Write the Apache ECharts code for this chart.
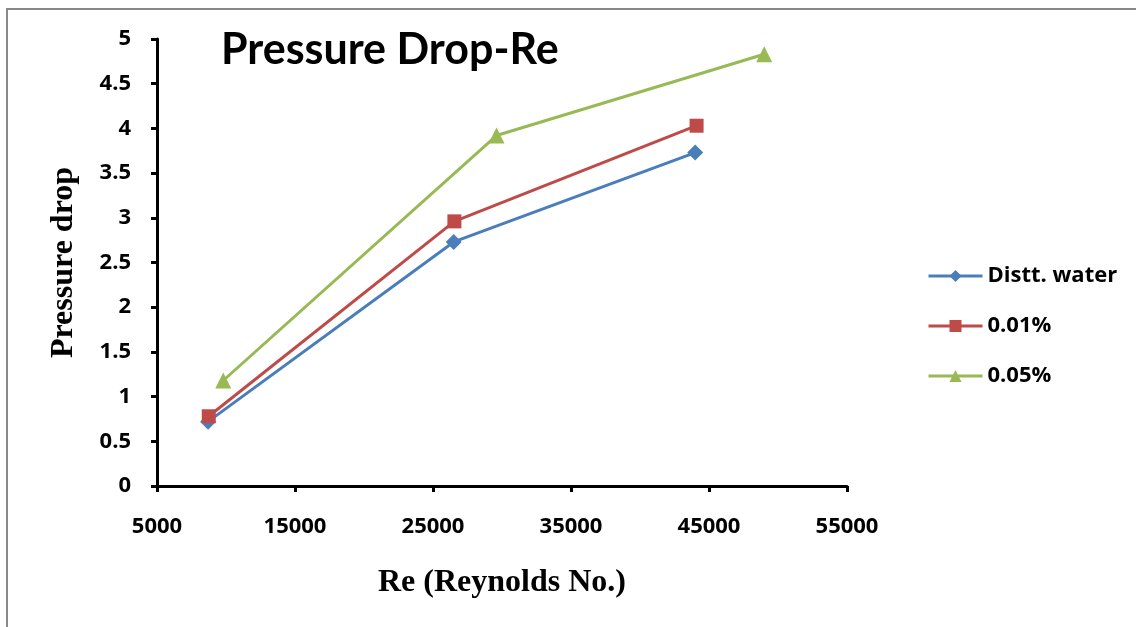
<!DOCTYPE html>
<html>
<head>
<meta charset="utf-8">
<style>
  html, body { margin: 0; padding: 0; background: #ffffff; }
  #chart { width: 1136px; height: 627px; }
</style>
<script src="https://cdn.jsdelivr.net/npm/echarts@6/dist/echarts.min.js"></script>
</head>
<body>
<div id="chart"></div>
<script>
// Reynolds number vs. pressure drop for the three fluids
const waterRe = [8700, 26500, 44000];
const waterDp = [0.72, 2.73, 3.73];

const nano001Re = [8750, 26550, 44100];
const nano001Dp = [0.78, 2.96, 4.03];

const nano005Re = [9800, 29600, 49000];
const nano005Dp = [1.18, 3.92, 4.83];

const seriesNames = ['Distt. water', '0.01%', '0.05%'];
const seriesColors = ['#4A7EBB', '#BE4B48', '#98B954'];
const seriesSymbols = ['diamond', 'rect', 'triangle'];

const pairs = (xs, ys) => xs.map((x, i) => [x, ys[i]]);

const titleFont = 'Lato, "Open Sans", sans-serif';
const labelFont = '"Open Sans", Lato, sans-serif';
const serifFont = '"Liberation Serif", "DejaVu Serif", serif';

const chart = echarts.init(document.getElementById('chart'), null, { renderer: 'canvas' });

const makeSeries = (idx, xs, ys, size) => ({
  name: seriesNames[idx],
  type: 'line',
  data: pairs(xs, ys),
  symbol: seriesSymbols[idx],
  symbolSize: size,
  lineStyle: { width: 3, color: seriesColors[idx] },
  itemStyle: { color: seriesColors[idx] }
});

chart.setOption({
  animation: false,
  backgroundColor: '#ffffff',
  title: {
    text: 'Pressure Drop-Re',
    left: 216,
    top: 24,
    textStyle: { fontFamily: titleFont, fontWeight: 'bold', fontSize: 43, color: '#000' }
  },
  graphic: [
    { type: 'line', shape: { x1: 6, y1: 9, x2: 1136, y2: 9 }, style: { stroke: '#888888', lineWidth: 2 } },
    { type: 'line', shape: { x1: 7, y1: 9, x2: 7, y2: 627 }, style: { stroke: '#888888', lineWidth: 2 } }
  ],
  legend: {
    orient: 'vertical',
    left: 922,
    top: 260,
    itemWidth: 54,
    itemHeight: 15,
    itemGap: 28,
    lineStyle: { width: 3 },
    textStyle: { fontFamily: labelFont, fontWeight: 'bold', fontSize: 22, color: '#000' },
    data: seriesNames
  },
  grid: { left: 157, top: 39, right: 289, bottom: 141, containLabel: false },
  xAxis: {
    type: 'value',
    min: 5000,
    max: 55000,
    interval: 10000,
    name: 'Re (Reynolds No.)',
    nameLocation: 'middle',
    nameGap: 81,
    nameTextStyle: { fontFamily: serifFont, fontWeight: 'bold', fontSize: 32, color: '#000' },
    axisLine: { show: true, lineStyle: { color: '#000', width: 3 } },
    axisTick: { show: true, inside: false, length: 6, lineStyle: { color: '#000', width: 3 } },
    axisLabel: {
      margin: 30,
      fontFamily: labelFont, fontWeight: 'bold', fontSize: 22, color: '#000',
      formatter: (v) => String(v)
    },
    splitLine: { show: false }
  },
  yAxis: {
    type: 'value',
    min: 0,
    max: 5,
    interval: 0.5,
    name: 'Pressure drop',
    nameLocation: 'middle',
    nameGap: 77,
    nameRotate: 90,
    nameTextStyle: { fontFamily: serifFont, fontWeight: 'bold', fontSize: 32, color: '#000' },
    axisLine: { show: true, lineStyle: { color: '#000', width: 3 } },
    axisTick: { show: true, inside: false, length: 6, lineStyle: { color: '#000', width: 3 } },
    axisLabel: {
      margin: 26,
      fontFamily: labelFont, fontWeight: 'bold', fontSize: 22, color: '#000',
      formatter: (v) => String(v)
    },
    splitLine: { show: false }
  },
  series: [
    makeSeries(0, waterRe, waterDp, 16),
    makeSeries(1, nano001Re, nano001Dp, 14),
    makeSeries(2, nano005Re, nano005Dp, 16)
  ]
});
</script>
</body>
</html>
